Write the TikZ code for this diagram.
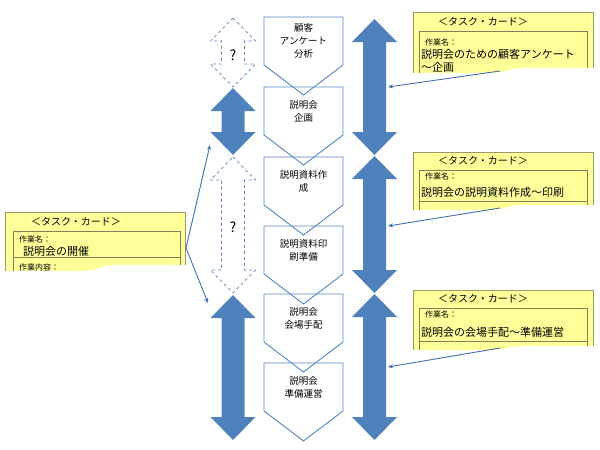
\documentclass[tikz,border=0pt]{standalone}
\usepackage{fontspec}
\setmainfont{Noto Sans CJK JP}
\newfontfamily\jp{Noto Sans CJK JP}
\usetikzlibrary{arrows.meta}
\definecolor{bfill}{HTML}{4F81BD}
\definecolor{chline}{HTML}{5585C0}
\definecolor{conncol}{HTML}{3E70B2}
\definecolor{cardyel}{HTML}{FFFF99}
\definecolor{cardline}{HTML}{9A9A66}
\definecolor{innerline}{HTML}{80805A}
\newcommand\darr[4]{%
  \path[#4] (#1,#2) -- ({#1+22.5},{#2+23}) -- ({#1+11.5},{#2+23}) -- ({#1+11.5},{#3-23}) -- ({#1+22.5},{#3-23}) -- (#1,#3) -- ({#1-22.5},{#3-23}) -- ({#1-11.5},{#3-23}) -- ({#1-11.5},{#2+23}) -- ({#1-22.5},{#2+23}) -- cycle;}
\newcommand\chev[1]{%
  \draw[chevbox] (264,#1) -- (343,#1) -- (343,{#1+48}) -- (303.5,{#1+78}) -- (264,{#1+48}) -- cycle;}
\newcommand\cut[3]{% left x, y left, y right
  \fill[white] (#1,#2) -- ({#1+87},#2) .. controls ({#1+100},#2) and ({#1+104},#3) .. ({#1+120},#3) -- ({#1+195},#3) -- ({#1+195},{#2+22}) -- (#1,{#2+22}) -- cycle;}
\tikzset{
  solidarr/.style={fill=bfill},
  dasharr/.style={draw=chline, dashed, line width=0.7pt, fill=white},
  chevbox/.style={draw=chline, line width=0.9pt, line join=miter},
  ctext/.style={font=\jp\fontsize{9.5}{13}\selectfont, align=center, text=black, inner sep=0pt},
  qmark/.style={font=\jp\fontsize{14}{14}\selectfont, inner sep=0pt},
  cardbox/.style={draw=cardline, fill=cardyel, line width=0.8pt, anchor=north west, inner sep=0pt},
  innerbox/.style={draw=innerline, line width=0.7pt},
  ttl/.style={font=\jp\fontsize{10}{12}\selectfont, inner sep=0pt},
  lbl/.style={font=\jp\fontsize{8}{10}\selectfont, inner sep=0pt, anchor=west},
  mtxt/.style={font=\jp\fontsize{11}{13}\selectfont, inner sep=0pt, anchor=west},
  conn/.style={draw=conncol, line width=0.9pt, -{Stealth[length=5pt,width=4pt]}}
}
\begin{document}
\begin{tikzpicture}[x=1pt,y=-1pt,font=\jp]
\useasboundingbox (0,0) rectangle (600,450);
% left column arrows
\darr{233}{18}{87}{dasharr}
\darr{233}{88}{155}{solidarr}
\darr{233}{157}{293}{dasharr}
\darr{233}{295}{440}{solidarr}
\node[qmark] (q1) at (233,55) {?};
\node[qmark] (q2) at (233,227) {?};
% right column arrows
\darr{374.5}{19}{155}{solidarr}
\darr{374.5}{156}{293}{solidarr}
\darr{374.5}{294}{440}{solidarr}
% chevrons
\chev{17}\chev{87}\chev{157}\chev{226}\chev{294}\chev{363}
\node[ctext] (c1) at (303.5,41) {顧客\\アンケート\\分析};
\node[ctext] (c2) at (303.5,111) {説明会\\企画};
\node[ctext] (c3) at (303.5,181) {説明資料作\\成};
\node[ctext] (c4) at (303.5,250) {説明資料印\\刷準備};
\node[ctext] (c5) at (303.5,318) {説明会\\会場手配};
\node[ctext] (c6) at (303.5,387) {説明会\\準備運営};
% card 1
\node[cardbox, minimum width=180pt, minimum height=70pt] (card1) at (413,12) {};
\draw[innerbox] (419,31) -- (419,80) (419,31) -- (587,31) -- (587,80);
\node[ttl] (t1) at (483,22) {＜タスク・カード＞};
\node[lbl] (n1) at (425,42) {作業名：};
\node[mtxt] (m1) at (421,54) {説明会のための顧客アンケート};
\node[mtxt] (m1b) at (421,67) {～企画};
\cut{405}{73}{68}
% card 2
\node[cardbox, minimum width=180pt, minimum height=68pt] (card2) at (413,152) {};
\draw[innerbox] (419,170) -- (419,218) (419,170) -- (587,170) -- (587,218) (419,201) -- (587,201);
\node[ttl] (t2) at (483,161) {＜タスク・カード＞};
\node[lbl] (n2) at (425,176) {作業名：};
\node[mtxt] (m2) at (421,192) {説明会の説明資料作成～印刷};
\cut{405}{210}{205}
% card 3
\node[cardbox, minimum width=180pt, minimum height=68pt] (card3) at (413,290) {};
\draw[innerbox] (419,308) -- (419,356) (419,308) -- (587,308) -- (587,356) (419,341) -- (587,341);
\node[ttl] (t3) at (483,299) {＜タスク・カード＞};
\node[lbl] (n3) at (425,314) {作業名：};
\node[mtxt] (m3) at (421,332) {説明会の会場手配～準備運営};
\cut{405}{350}{346}
% left card
\node[cardbox, minimum width=180pt, minimum height=68pt] (cardL) at (5,212) {};
\draw[innerbox] (13,231) -- (13,278) (13,231) -- (180,231) -- (180,278) (13,257) -- (180,257);
\node[ttl] (tL) at (76,222) {＜タスク・カード＞};
\node[lbl] (nL) at (19,239) {作業名：};
\node[mtxt] (mL) at (23,251) {説明会の開催};
\node[lbl] (wL) at (19,267) {作業内容：};
\cut{-3}{271}{265}
% connectors
\coordinate (k1) at (500,71);
\coordinate (k2) at (500,208);
\coordinate (k3) at (500,348);
\coordinate (kL) at (186,248);
\coordinate (r1) at (388,87);
\coordinate (r2) at (388,226);
\coordinate (r3) at (388,367);
\coordinate (l1) at (210,145);
\coordinate (l2) at (208,303);
\draw[conn] (k1) -- (r1);
\draw[conn] (k2) -- (r2);
\draw[conn] (k3) -- (r3);
\draw[conn] (kL) -- (l1);
\draw[conn] (kL) -- (l2);
\end{tikzpicture}
\end{document}
